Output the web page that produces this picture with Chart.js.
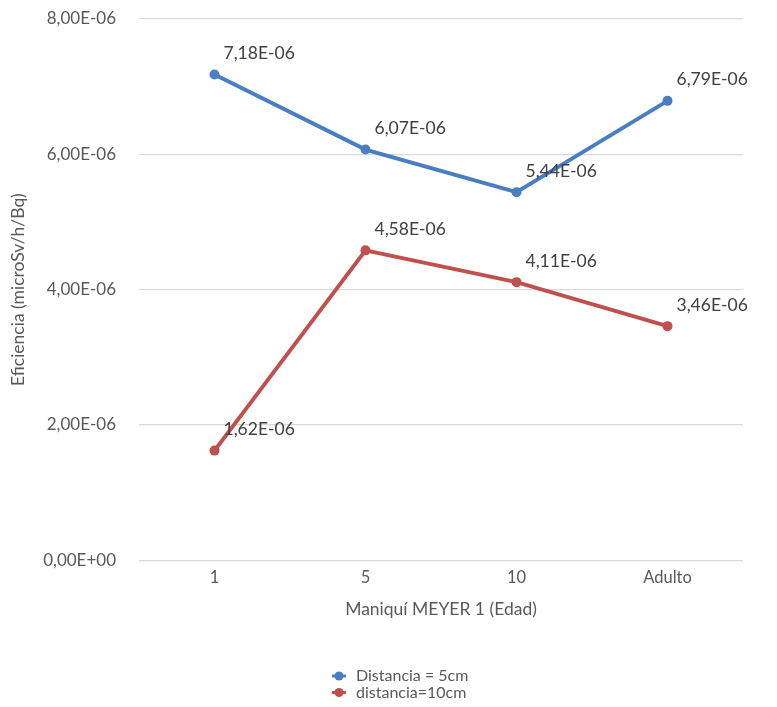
<!DOCTYPE html>
<html><head><meta charset="utf-8">
<script src="https://cdn.jsdelivr.net/npm/chart.js@4.4.1/dist/chart.umd.min.js"></script>
<style>html,body{margin:0;padding:0;background:#fff;}#wrap{width:777px;height:707px;position:relative;}</style>
</head><body><div id="wrap"><canvas id="c" width="777" height="707"></canvas></div>
<script>
const categories = ['1', '5', '10', 'Adulto'];
const serie5cm = [7.18e-6, 6.07e-6, 5.44e-6, 6.79e-6];
const serie10cm = [1.62e-6, 4.58e-6, 4.11e-6, 3.46e-6];
const seriesNames = ['Distancia = 5cm', 'distancia=10cm'];
const yTicks = [0, 2e-6, 4e-6, 6e-6, 8e-6];

const FONT = 'Lato, "Open Sans", sans-serif';
const GREY = '#595959';

function fmtE(v) {
  if (Math.abs(v) < 1e-20) return '0,00E+00';
  const s = v.toExponential(2);
  const [m, e] = s.split('e');
  const n = parseInt(e, 10);
  const sign = n < 0 ? '-' : '+';
  const ex = String(Math.abs(n)).padStart(2, '0');
  return m.replace('.', ',') + 'E' + sign + ex;
}

const labelPlugin = {
  id: 'vals',
  afterDatasetsDraw(chart) {
    const ctx = chart.ctx;
    ctx.save();
    ctx.font = '17.5px ' + FONT;
    ctx.fillStyle = '#404040';
    ctx.textAlign = 'left';
    ctx.textBaseline = 'middle';
    chart.data.datasets.forEach((ds, i) => {
      const meta = chart.getDatasetMeta(i);
      meta.data.forEach((pt, j) => {
        ctx.fillText(fmtE(ds.data[j]), pt.x + 9, pt.y - 21);
      });
    });
    ctx.restore();
  }
};

const legendPlugin = {
  id: 'vlegend',
  afterDraw(chart) {
    const ctx = chart.ctx;
    ctx.save();
    ctx.font = '16px ' + FONT;
    ctx.textBaseline = 'middle';
    ctx.textAlign = 'left';
    chart.data.datasets.forEach((ds, i) => {
      const y = 676 + i * 16.5;
      const x = 339;
      ctx.strokeStyle = ds.borderColor;
      ctx.lineWidth = 3;
      ctx.beginPath(); ctx.moveTo(x - 7, y); ctx.lineTo(x + 7, y); ctx.stroke();
      ctx.fillStyle = ds.borderColor;
      ctx.beginPath(); ctx.arc(x, y, 4.5, 0, Math.PI * 2); ctx.fill();
      ctx.fillStyle = GREY;
      ctx.fillText(ds.label, x + 17, y);
    });
    ctx.restore();
  }
};

new Chart(document.getElementById('c'), {
  type: 'line',
  data: {
    labels: categories,
    datasets: [
      { label: seriesNames[0], data: serie5cm, borderColor: '#4a7dc1', backgroundColor: '#4a7dc1',
        borderWidth: 4, pointRadius: 5, pointBackgroundColor: '#4a7dc1', pointBorderWidth: 0, tension: 0 },
      { label: seriesNames[1], data: serie10cm, borderColor: '#c0504d', backgroundColor: '#c0504d',
        borderWidth: 4, pointRadius: 5, pointBackgroundColor: '#c0504d', pointBorderWidth: 0, tension: 0 }
    ]
  },
  options: {
    responsive: false,
    animation: false,
    devicePixelRatio: 1,
    layout: { autoPadding: false, padding: { left: 0, right: 34, top: 19, bottom: 87 } },
    plugins: { legend: { display: false }, tooltip: { enabled: false } },
    scales: {
      x: {
        offset: true,
        grid: { display: false, drawTicks: false },
        border: { display: false },
        ticks: { color: GREY, font: { family: FONT, size: 16.5 }, padding: 8 },
        title: { display: true, text: 'Maniquí MEYER 1 (Edad)', color: GREY, font: { family: FONT, size: 17.5 }, padding: { top: 3, bottom: 0 } }
      },
      y: {
        min: 0, max: 8e-6,
        afterBuildTicks(s) { s.ticks = yTicks.map(v => ({ value: v })); },
        grid: { color: '#d9d9d9', lineWidth: 1.3, drawTicks: true, tickLength: 20, tickColor: 'rgba(0,0,0,0)' },
        border: { display: false },
        ticks: { color: GREY, font: { family: FONT, size: 17 }, padding: 3, callback: v => fmtE(v) },
        title: { display: true, text: 'Eficiencia (microSv/h/Bq)', color: GREY, font: { family: FONT, size: 17.5 }, padding: { top: 8, bottom: 0 } },
        afterFit(s) { s.width = 139; }
      }
    }
  },
  plugins: [labelPlugin, legendPlugin]
});
</script></body></html>
